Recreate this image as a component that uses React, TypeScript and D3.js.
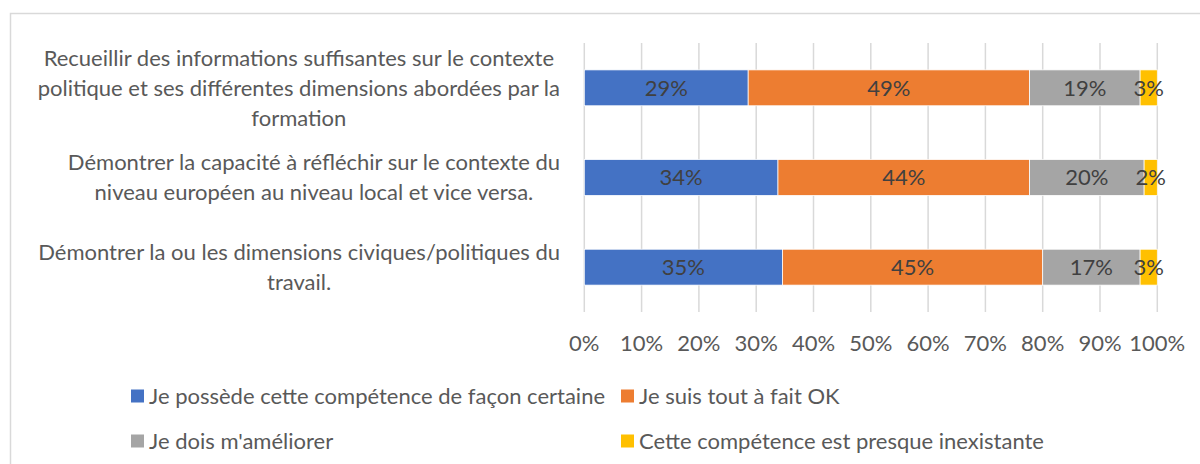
import React, { useEffect, useRef } from "react";
import * as d3 from "d3";

const categories = [
  "Recueillir des informations suffisantes sur le contexte\npolitique et ses différentes dimensions abordées par la\nformation",
  "Démontrer la capacité à réfléchir sur le contexte du\nniveau européen au niveau local et vice versa.",
  "Démontrer la ou les dimensions civiques/politiques du\ntravail.",
];
const seriesNames = [
  "Je possède cette compétence de façon certaine",
  "Je suis tout à fait OK",
  "Je dois m'améliorer",
  "Cette compétence est presque inexistante",
];
const seriesColors = ["#4472C4", "#ED7D31", "#A5A5A5", "#FFC000"];
const certaine = [0.286, 0.338, 0.346];
const toutOK = [0.491, 0.439, 0.454];
const ameliorer = [0.193, 0.2, 0.17];
const inexistante = [0.03, 0.023, 0.03];
const tickValues = [0, 0.1, 0.2, 0.3, 0.4, 0.5, 0.6, 0.7, 0.8, 0.9, 1];

const FONT = "Lato, 'Liberation Sans', sans-serif";
const FS = 22;

export default function App() {
  const ref = useRef<SVGSVGElement | null>(null);
  useEffect(() => {
    document.body.style.margin = "0";
    const svg = d3.select(ref.current);
    svg.selectAll("*").remove();
    const W = 1200, H = 464;
    svg.append("rect").attr("x", 0).attr("y", 0).attr("width", W).attr("height", H).attr("fill", "#fff");
    // chart border
    svg.append("path").attr("d", `M10.5,${H} V13.5 H${W}`).attr("fill", "none").attr("stroke", "#d9d9d9").attr("stroke-width", 1.5);

    const x = d3.scaleLinear().domain([0, 1]).range([584.3, 1157.3]);
    const y = d3.scaleBand<number>().domain(d3.range(categories.length)).range([43, 312]).paddingInner(0.6).paddingOuter(0.3);

    // gridlines
    svg.append("g").selectAll("line").data(tickValues).join("line")
      .attr("x1", (d) => x(d)).attr("x2", (d) => x(d)).attr("y1", 43).attr("y2", 312)
      .attr("stroke", "#d9d9d9").attr("stroke-width", 1.5);

    // tick labels
    svg.append("g").selectAll("text").data(tickValues).join("text")
      .attr("x", (d) => x(d)).attr("y", 343).attr("dy", "0.35em").attr("text-anchor", "middle")
      .attr("font-family", FONT).attr("font-size", FS).attr("fill", "#595959")
      .text((d) => d3.format(".0%")(d));

    const rows = categories.map((c, i) => ({ i, vals: [certaine[i], toutOK[i], ameliorer[i], inexistante[i]] }));
    const stacked = d3.stack<any, number>().keys([0, 1, 2, 3]).value((d, k) => d.vals[k])(rows as any);

    stacked.forEach((layer, si) => {
      const g = svg.append("g");
      g.selectAll("rect").data(layer).join("rect")
        .attr("x", (d) => x(d[0])).attr("width", (d) => x(d[1]) - x(d[0]))
        .attr("y", (d: any) => y(d.data.i)!).attr("height", y.bandwidth())
        .attr("fill", seriesColors[si]).attr("stroke", "#fff").attr("stroke-width", 0.75);
      g.selectAll("text").data(layer).join("text")
        .attr("x", (d) => (x(d[0]) + x(d[1])) / 2).attr("y", (d: any) => y(d.data.i)! + y.bandwidth() / 2)
        .attr("dy", "0.35em").attr("text-anchor", "middle")
        .attr("font-family", FONT).attr("font-size", FS).attr("fill", "#404040")
        .text((d) => d3.format(".0%")(d[1] - d[0]));
    });

    // category labels
    const lineH = 30;
    const rightEdge = 560;
    categories.forEach((c, i) => {
      const lines = c.split("\n");
      const g = svg.append("g");
      const texts = g.selectAll("text").data(lines).join("text")
        .attr("font-family", FONT).attr("font-size", FS).attr("fill", "#595959")
        .attr("text-anchor", "middle").attr("dy", "0.35em")
        .text((d) => d);
      let maxW = 0;
      texts.each(function () { maxW = Math.max(maxW, (this as SVGTextElement).getComputedTextLength()); });
      const cx = rightEdge - maxW / 2;
      const cy = y(i)! + y.bandwidth() / 2;
      texts.attr("x", cx).attr("y", (d, j) => cy + (j - (lines.length - 1) / 2) * lineH);
    });

    // legend
    const legendPos = [
      [131, 396], [621, 396], [131, 441], [621, 441],
    ];
    seriesNames.forEach((n, i) => {
      const [lx, ly] = legendPos[i];
      svg.append("rect").attr("x", lx).attr("y", ly - 6.5).attr("width", 13).attr("height", 13).attr("fill", seriesColors[i]);
      svg.append("text").attr("x", lx + 18).attr("y", ly).attr("dy", "0.35em")
        .attr("font-family", FONT).attr("font-size", FS).attr("fill", "#595959").text(n);
    });
  }, []);
  return <svg ref={ref} width={1200} height={464} style={{ display: "block" }} />;
}
